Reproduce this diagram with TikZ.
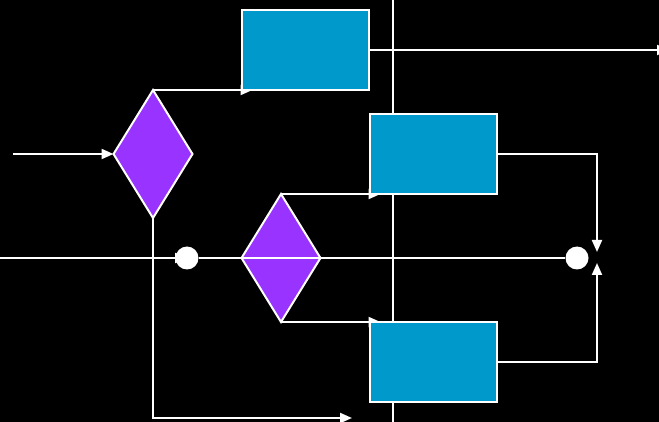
\documentclass[tikz,border=0pt]{standalone}
\usetikzlibrary{arrows.meta,shapes.geometric}
\definecolor{boxblue}{RGB}{0,153,204}
\definecolor{decviolet}{RGB}{153,51,255}
\tikzstyle{blk} = [rectangle, draw=white, fill=boxblue, line width=2pt,
    minimum width=127pt, minimum height=80pt, inner sep=0pt, outer sep=0pt]
\tikzstyle{dec} = [diamond, draw=white, fill=decviolet, line width=2pt,
    minimum width=79pt, minimum height=128pt, inner sep=0pt, outer sep=0pt]
\tikzstyle{jct} = [circle, draw=none, fill=white, minimum size=23pt, inner sep=0pt]
\tikzstyle{wire} = [draw=white, line width=2pt]
\pgfdeclarelayer{bg}
\pgfdeclarelayer{wires}
\pgfsetlayers{bg,wires,main}

\begin{document}
\begin{tikzpicture}[x=1pt,y=-1pt,->,>={Triangle[length=12pt,width=10pt]}]
  \useasboundingbox (0,0) rectangle (659,422);
  \begin{pgfonlayer}{bg}
    \fill[black] (0,0) rectangle (659,422);
  \end{pgfonlayer}

  \node[blk] (1) at (305,50)  {};
  \node[blk] (2) at (433,154) {};
  \node[blk] (3) at (433,362) {};
  \node[dec] (4) at (153,154) {};
  \node[dec] (5) at (281,258) {};
  \node[jct] (6) at (187,258) {};
  \node[jct] (7) at (577,258) {};

  \coordinate (in1) at (13,154);
  \coordinate (in2) at (0,258);
  \coordinate (out1) at (669,50);
  \coordinate (out2) at (352,418);
  \coordinate (top) at (393,0);
  \coordinate (bot) at (393,422);
  \coordinate (j) at (597,258);

  % wiring sits under the blocks
  \begin{pgfonlayer}{wires}
    \draw[wire,-] (top) -- (bot);
    \draw[wire] (in1) -- (4.west);
    \draw[wire] (in2) -- (6.center);
    \draw[wire] (4.north) -- ([xshift=11pt]1.south west);
    \draw[wire] (5.north) -- ([xshift=11pt]2.south west);
    \draw[wire] (5.south) -- ([xshift=11pt]3.north west);
    \draw[wire] (4.south) |- (out2);
    \draw[wire] (1.east) -- (out1);
    \draw[wire] (2.east) -| ([yshift=6pt]j);
    \draw[wire] (3.east) -| ([yshift=-5pt]j);
  \end{pgfonlayer}
  \draw[wire,-] (6.east) -- (7.west);
\end{tikzpicture}
\end{document}
